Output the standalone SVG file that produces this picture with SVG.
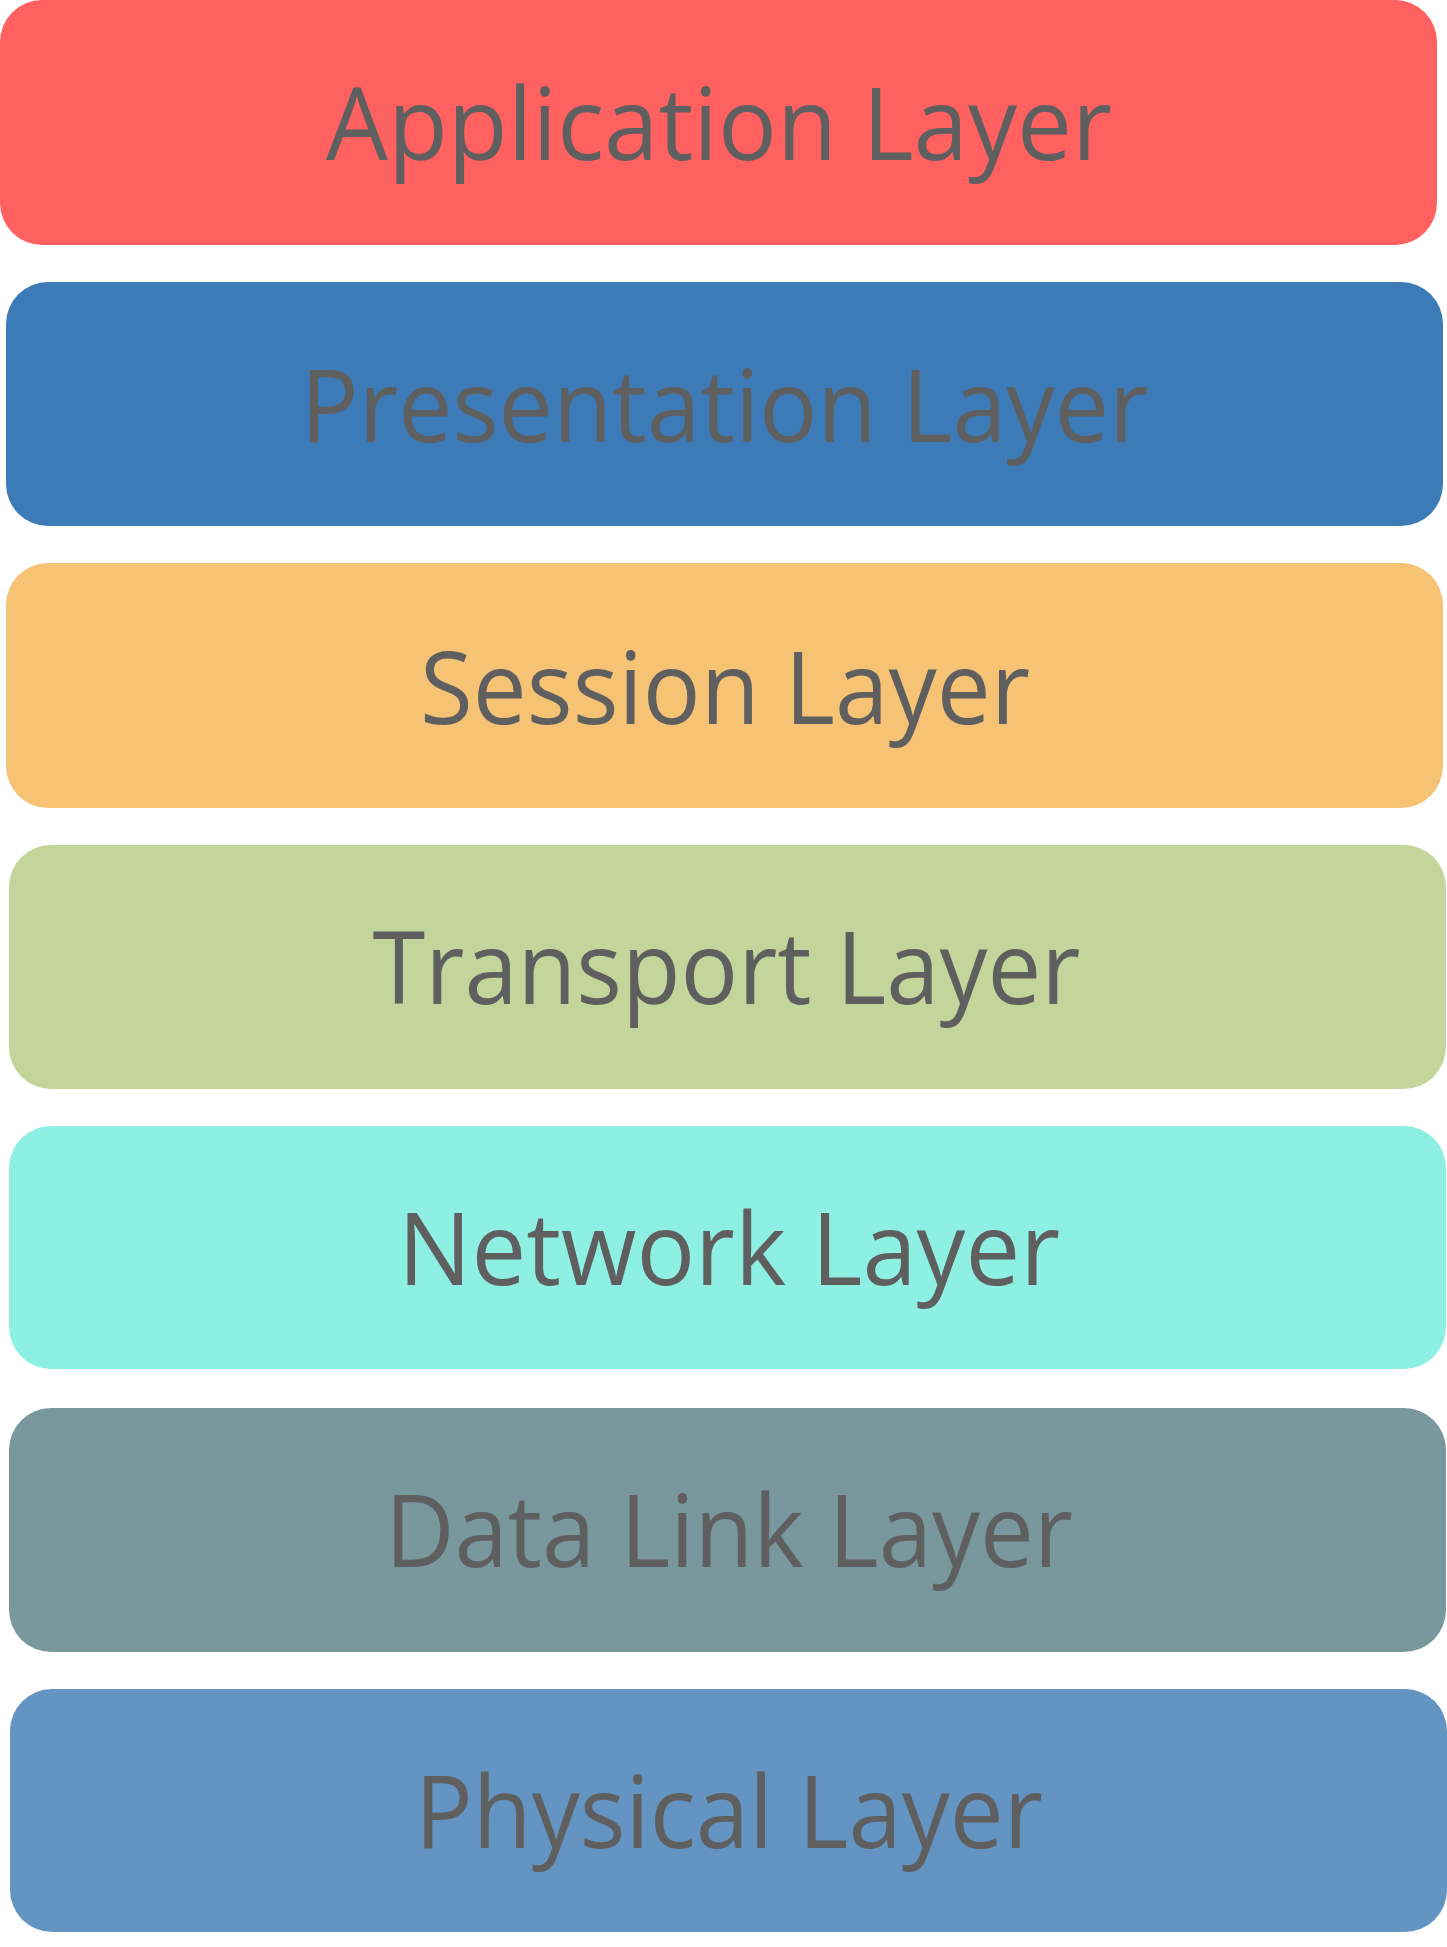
<svg xmlns="http://www.w3.org/2000/svg" width="1447" height="1947" viewBox="0 0 1447 1947">
<style>
text{font-family:"Open Sans","Noto Sans","Liberation Sans",sans-serif;font-size:100px;fill:#5f5f5f;text-anchor:middle}
</style>
<rect x="0" y="0" width="1447" height="1947" fill="#ffffff"/>
<g id="application"><rect x="0" y="0" width="1437" height="245" rx="42" fill="#ff6161"/><text x="719" y="160" textLength="786" lengthAdjust="spacingAndGlyphs">Application Layer</text></g>
<g id="presentation"><rect x="6" y="282" width="1437" height="244" rx="42" fill="#3c7bb7"/><text x="724.5" y="442" textLength="848" lengthAdjust="spacingAndGlyphs">Presentation Layer</text></g>
<g id="session"><rect x="6" y="563" width="1437" height="245" rx="42" fill="#f5c373"/><text x="725" y="724" textLength="610" lengthAdjust="spacingAndGlyphs">Session Layer</text></g>
<g id="transport"><rect x="9" y="845" width="1437" height="244" rx="42" fill="#c4d59b"/><text x="726.5" y="1004" textLength="708" lengthAdjust="spacingAndGlyphs">Transport Layer</text></g>
<g id="network"><rect x="9" y="1126" width="1437" height="243" rx="42" fill="#8eefe3"/><text x="729" y="1285" textLength="662" lengthAdjust="spacingAndGlyphs">Network Layer</text></g>
<g id="datalink"><rect x="9" y="1408" width="1437" height="244" rx="42" fill="#78989e"/><text x="729" y="1567" textLength="688" lengthAdjust="spacingAndGlyphs">Data Link Layer</text></g>
<g id="physical"><rect x="10" y="1689" width="1437" height="243" rx="42" fill="#6494c2"/><text x="729" y="1848" textLength="628" lengthAdjust="spacingAndGlyphs">Physical Layer</text></g>
<g id="connectors"></g>
</svg>
